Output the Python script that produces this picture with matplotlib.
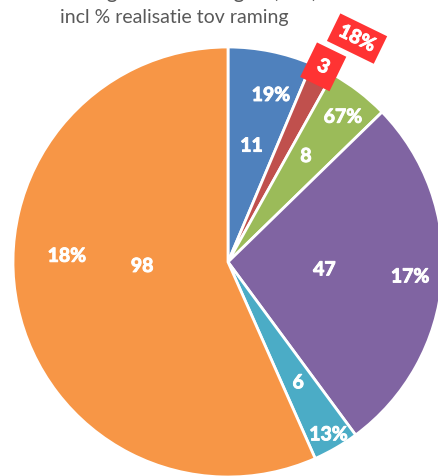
import numpy as np
import matplotlib
matplotlib.use("Agg")
import matplotlib.pyplot as plt
import matplotlib.patheffects as pe

plt.rcParams['font.family'] = ['Lato', 'DejaVu Sans']

# data
labels = ['blauw', 'rood', 'groen', 'paars', 'turkoois', 'oranje']
values = [11, 3, 8, 47, 6, 98]
pct_labels = ['19%', '18%', '67%', '17%', '13%', '18%']
colors = ['#4F81BD', '#C0504D', '#9BBB59', '#8064A2', '#4BACC6', '#F79646']

# label placement (fraction of radius, angle tweak in degrees)
val_r = [0.55, 1.01, 0.61, 0.45, 0.65, 0.40]
pct_r = [0.80, 1.20, 0.86, 0.85, 0.93, 0.75]
val_da = [0, 0, 1, 0, 0, -9]
pct_da = [-3, -4, -1, 0, 0, -14]

fig = plt.figure(figsize=(4.39, 4.77), dpi=100)
ax = fig.add_axes([0, 0, 1, 1])

wedges, _ = ax.pie(values, colors=colors, startangle=90, counterclock=False,
                   radius=1, center=(0, 0),
                   wedgeprops=dict(edgecolor='white', linewidth=2))

ax.set_xlim(-228 / 215, (439 - 228) / 215)
ax.set_ylim(-214 / 215, 263 / 215)
ax.set_aspect('auto')
ax.axis('off')

fs = 14
bold = [pe.withStroke(linewidth=0.7, foreground='white')]
for i, w in enumerate(wedges):
    mid = (w.theta1 + w.theta2) / 2
    a1 = np.deg2rad(mid + val_da[i])
    a2 = np.deg2rad(mid + pct_da[i])
    if i == 1:
        rot = mid - 90
        ax.text(val_r[i] * np.cos(a1), val_r[i] * np.sin(a1), str(values[i]),
                ha='center', va='center', color='white', fontsize=fs,
                fontweight='bold', rotation=rot, path_effects=bold,
                bbox=dict(boxstyle='square,pad=0.55', fc='#FF3333', ec='none'))
        ax.text(pct_r[i] * np.cos(a2), pct_r[i] * np.sin(a2), pct_labels[i],
                ha='center', va='center', color='white', fontsize=fs,
                fontweight='bold', rotation=rot, path_effects=bold,
                bbox=dict(boxstyle='square,pad=0.35', fc='#FF3333', ec='none'))
    else:
        ax.text(val_r[i] * np.cos(a1), val_r[i] * np.sin(a1), str(values[i]),
                ha='center', va='center', color='white', fontsize=fs,
                fontweight='bold', path_effects=bold)
        ax.text(pct_r[i] * np.cos(a2), pct_r[i] * np.sin(a2), pct_labels[i],
                ha='center', va='center', color='white', fontsize=fs,
                fontweight='bold', path_effects=bold)

fig.text(178 / 439, 1 - (-8) / 477, 'Ontvangsten belastingen (mln)',
         ha='center', va='center', color='#595959', fontsize=15)
fig.text(174 / 439, 1 - 18 / 477, 'incl % realisatie tov raming',
         ha='center', va='center', color='#595959', fontsize=14)

fig.savefig('out.png', dpi=100)
